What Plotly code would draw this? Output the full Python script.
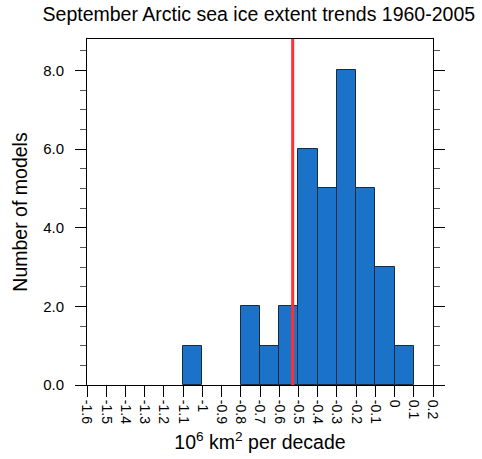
import plotly.graph_objects as go

# Histogram bins (left edges, width 0.1) and counts
bin_left = [-1.1, -0.8, -0.7, -0.6, -0.5, -0.4, -0.3, -0.2, -0.1, 0.0]
counts = [1, 2, 1, 2, 6, 5, 8, 5, 3, 1]
bin_width = 0.1
obs_trend = -0.53

tick_vals = [-1.6, -1.5, -1.4, -1.3, -1.2, -1.1, -1.0, -0.9, -0.8, -0.7, -0.6,
             -0.5, -0.4, -0.3, -0.2, -0.1, 0.0, 0.1, 0.2]
tick_text = ["-1.6", "-1.5", "-1.4", "-1.3", "-1.2", "-1.1", "-1", "-0.9", "-0.8",
             "-0.7", "-0.6", "-0.5", "-0.4", "-0.3", "-0.2", "-0.1", "0", "0.1", "0.2"]
y_tick_vals = [0, 2, 4, 6, 8]

centers = [b + bin_width / 2 for b in bin_left]

font_family = "Liberation Sans, Arial, Helvetica, sans-serif"

fig = go.Figure()
fig.add_trace(go.Bar(
    x=centers, y=counts, width=bin_width,
    marker=dict(color="#1a73c9", line=dict(color="#1a2a40", width=1)),
    showlegend=False, hoverinfo="skip",
))

fig.add_shape(type="line", x0=obs_trend, x1=obs_trend, y0=0, y1=1,
              xref="x", yref="paper",
              line=dict(color="#ff3030", width=3))

fig.update_layout(
    width=482, height=459,
    margin=dict(l=87, r=49, t=39, b=74),
    paper_bgcolor="white", plot_bgcolor="white",
    font=dict(family=font_family, color="black"),
    title=dict(text="September Arctic sea ice extent trends 1960-2005",
               x=0.537, xanchor="center", y=0.985, yanchor="top",
               font=dict(size=19.5)),
    bargap=0,
)

fig.update_xaxes(
    range=[-1.6, 0.2], automargin=False,
    tickvals=tick_vals, ticktext=tick_text, tickangle=90,
    ticks="outside", ticklen=11, tickwidth=1, tickcolor="black",
    showline=True, linecolor="black", linewidth=1, mirror=True,
    showgrid=False, zeroline=False,
    tickfont=dict(size=14),
    title=dict(text="10<sup>6</sup> km<sup>2</sup> per decade", font=dict(size=19.5), standoff=12),
)

fig.update_yaxes(
    range=[0, 8.8], automargin=False,
    tickvals=y_tick_vals, tickformat=".1f",
    ticks="outside", ticklen=11, tickwidth=1, tickcolor="black",
    ticklabelstandoff=8,
    minor=dict(dtick=0.5, tick0=0, ticks="outside", ticklen=6, tickcolor="#555555"),
    showline=True, linecolor="black", linewidth=1, mirror="ticks",
    showgrid=False, zeroline=False,
    tickfont=dict(size=15),
    title=dict(text="Number of models", font=dict(size=19.5), standoff=10),
)

fig.write_html("out.html")
